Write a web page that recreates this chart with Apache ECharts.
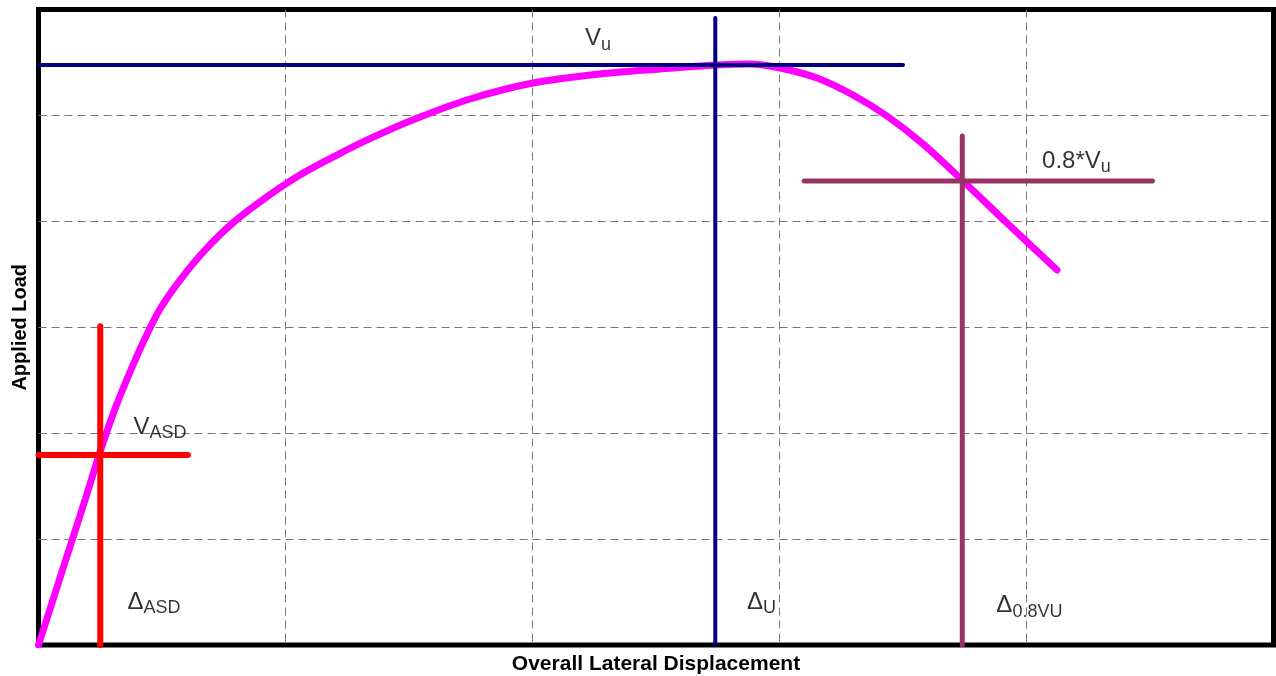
<!DOCTYPE html>
<html>
<head>
<meta charset="utf-8">
<script src="https://cdn.jsdelivr.net/npm/echarts@6/dist/echarts.min.js"></script>
<style>
  html, body { margin: 0; padding: 0; background: #fff; }
  #main { width: 1276px; height: 676px; }
</style>
</head>
<body>
<div id="main"></div>
<script>
// load vs displacement curve
var curveX = [0, 2.15, 3.77, 4.98, 6.19, 7.41, 8.62, 9.84, 11.46, 13.48, 15.91, 18.58,
  21.17, 24.01, 26.92, 30.49, 34.94, 40.04, 45.43, 50.32, 54.86, 57.61, 60.04,
  63.04, 65.95, 68.7, 71.62, 74.78, 78.42, 82.47];
var curveY = [0, 15.67, 27.38, 36.44, 44.56, 51.55, 57.87, 63.44, 68.92, 74.58, 80.06, 84.78,
  88.75, 92.33, 95.7, 99.32, 103.1, 106.12, 107.82, 108.76, 109.52, 109.71, 108.95,
  107.06, 103.85, 99.89, 94.6, 87.8, 79.68, 70.81];
// reference lines
var vuLine = [[0, 109.5], [70, 109.5]];
var duLine = [[54.8, 0], [54.8, 118.4]];
var v08Line = [[62, 87.6], [90.2, 87.6]];
var d08Line = [[74.8, 0], [74.8, 96.1]];
var vasdLine = [[0, 35.9], [12.1, 35.9]];
var dasdLine = [[5, 0], [5, 60.2]];
// annotations
var noteText = ['{m|V}{s|u}', '{m|0.8*V}{s|u}', '{m|V}{s|ASD}', '{m|\u0394}{s|ASD}', '{m|\u0394}{s|U}', '{m|\u0394}{s|0.8VU}'];
var notePos = [[44.3, 114.4], [81.3, 91.3], [7.73, 41.0], [7.24, 8.0], [57.4, 8.0], [77.6, 7.3]];

var xMin = 0, xMax = 100, xStep = 20;
var yMin = 0, yMax = 120, yStep = 20;

var chart = echarts.init(document.getElementById('main'));

function refLine(data, color, width) {
  return {
    type: 'line',
    data: data,
    showSymbol: false,
    symbol: 'none',
    silent: true,
    lineStyle: { color: color, width: width, cap: 'round' },
    z: 3
  };
}

var curveData = curveX.map(function (x, i) { return [x, curveY[i]]; });

var notes = notePos.map(function (p, i) {
  return { value: p, label: { formatter: noteText[i] } };
});

var gridLine = { color: '#777', type: [8, 5], width: 1 };

var option = {
  animation: false,
  grid: {
    show: true,
    left: 38.5,
    top: 9.5,
    right: 2.5,
    bottom: 31,
    outerBoundsMode: 'none',
    containLabel: false,
    borderColor: '#000',
    borderWidth: 5,
    backgroundColor: '#fff'
  },
  xAxis: {
    type: 'value',
    min: xMin, max: xMax, interval: xStep,
    name: 'Overall Lateral Displacement',
    nameLocation: 'middle',
    nameGap: 9,
    nameTextStyle: { fontFamily: 'Liberation Sans, Arial', fontWeight: 'bold', fontSize: 21, color: '#000' },
    axisLine: { show: false },
    axisTick: { show: false },
    axisLabel: { show: false },
    splitLine: { showMinLine: false, showMaxLine: false, lineStyle: gridLine }
  },
  yAxis: {
    type: 'value',
    min: yMin, max: yMax, interval: yStep,
    name: 'Applied Load',
    nameLocation: 'middle',
    nameGap: 8,
    nameTextStyle: { fontFamily: 'Liberation Sans, Arial', fontWeight: 'bold', fontSize: 20, color: '#000' },
    axisLine: { show: false },
    axisTick: { show: false },
    axisLabel: { show: false },
    splitLine: { showMinLine: false, showMaxLine: false, lineStyle: gridLine }
  },
  series: [
    {
      type: 'line',
      data: curveData,
      smooth: 0.3,
      showSymbol: false,
      symbol: 'none',
      lineStyle: { color: '#ff00ff', width: 7, cap: 'round', join: 'round' },
      z: 2
    },
    refLine(vuLine, '#000080', 4),
    refLine(duLine, '#000080', 4),
    refLine(v08Line, '#993366', 5),
    refLine(d08Line, '#993366', 5),
    refLine(vasdLine, '#ff0000', 6),
    refLine(dasdLine, '#ff0000', 6),
    {
      type: 'scatter',
      data: notes,
      symbolSize: 1,
      itemStyle: { color: 'rgba(0,0,0,0)' },
      z: 5,
      label: {
        show: true,
        position: [0, 0],
        align: 'left',
        verticalAlign: 'middle',
        color: '#000',
        rich: {
          m: { fontFamily: 'Liberation Sans, Arial', fontSize: 24, lineHeight: 30, color: '#000' },
          s: { fontFamily: 'Liberation Sans, Arial', fontSize: 18, lineHeight: 18, color: '#000', verticalAlign: 'bottom' }
        }
      }
    }
  ]
};

chart.setOption(option);
</script>
</body>
</html>
